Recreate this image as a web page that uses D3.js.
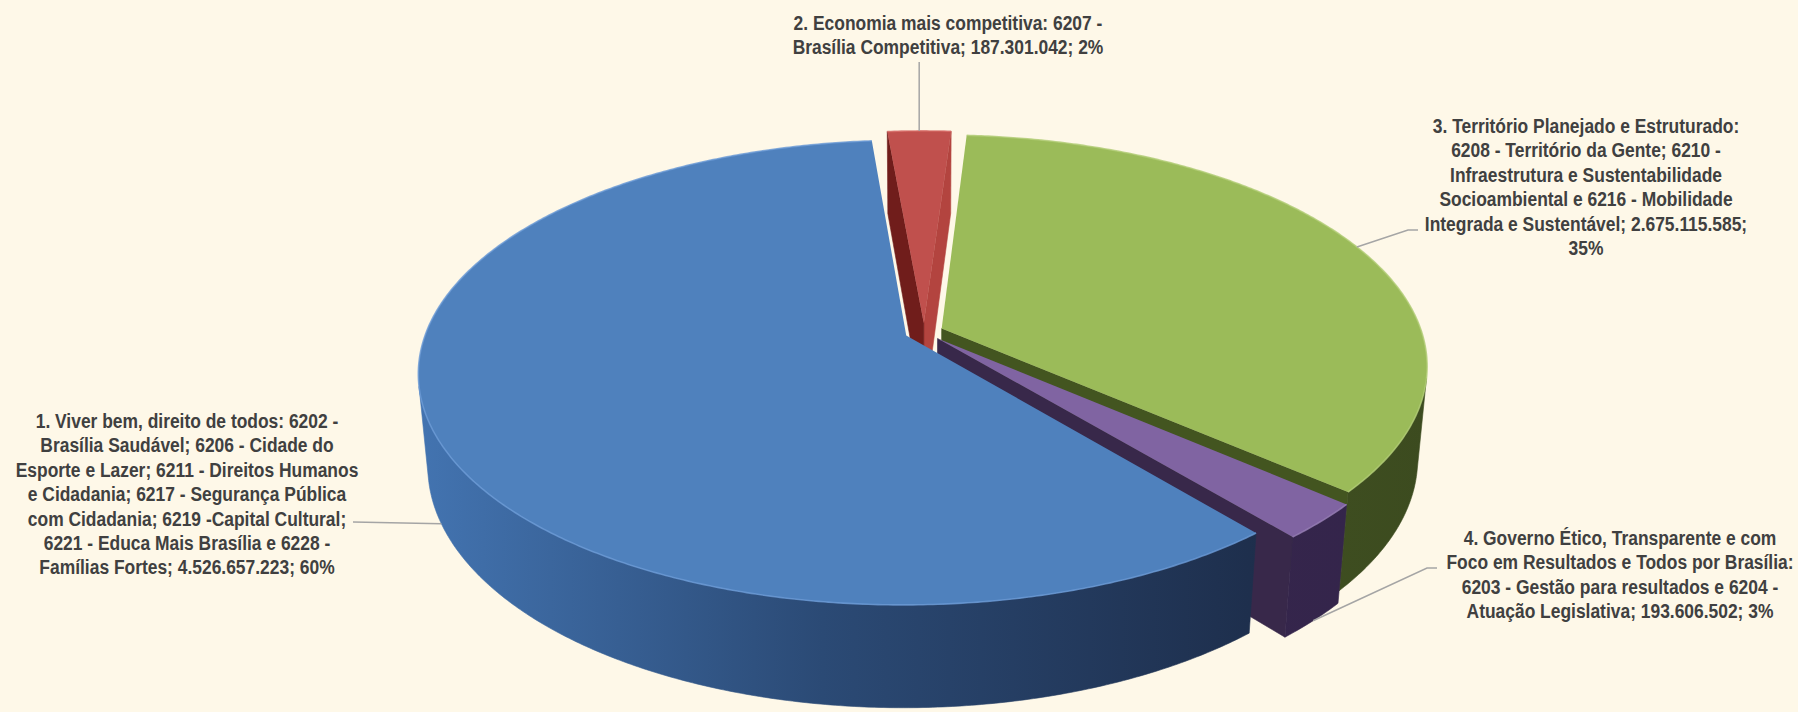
<!DOCTYPE html>
<html>
<head>
<meta charset="utf-8">
<script src="https://cdn.jsdelivr.net/npm/d3@7"></script>
<style>
  html, body { margin: 0; padding: 0; background: #fef8e8; }
  svg { display: block; }
  .lbl { font-family: "Liberation Sans", Arial, sans-serif; font-weight: bold; font-size: 21px; fill: #404040; }
</style>
</head>
<body>
<svg id="chart" width="1798" height="712"></svg>
<script>
// ---- data ----
const categoryLines = [
  ["1. Viver bem, direito de todos: 6202 -", "Brasília Saudável; 6206 - Cidade do", "Esporte e Lazer; 6211 - Direitos Humanos", "e Cidadania; 6217 - Segurança Pública", "com Cidadania; 6219 -Capital Cultural;", "6221 - Educa Mais Brasília e 6228 -", "Famílias Fortes"],
  ["2. Economia mais competitiva: 6207 -", "Brasília Competitiva"],
  ["3. Território Planejado e Estruturado:", "6208 - Território da Gente; 6210 -", "Infraestrutura e Sustentabilidade", "Socioambiental e 6216 - Mobilidade", "Integrada e Sustentável"],
  ["4. Governo Ético, Transparente e com", "Foco em Resultados e Todos por Brasília:", "6203 - Gestão para resultados e 6204 -", "Atuação Legislativa"]
];
const values = [4526657223, 187301042, 2675115585, 193606502];
const percentOnOwnLine = [false, false, true, false];

// ---- styles ----
const topColors = ["#4f81bd", "#c0504d", "#9bbb59", "#8064a2"];
const rimColors = ["#6a9ad6", "#d66a66", "#b0cc74", "#9880b8"];
const startFaceColors = ["#2a4570", "#701d1b", "#435520", "#38294b"];
const endFaceColors = ["#2a4570", "#b3443f", "#435520", "#38284a"];
const sideStops = [
  [[0, "#4374b1"], [0.4, "#2b4a75"], [0.85, "#1d2d4a"], [1, "#1b2a45"]],
  [[0, "#6e1a19"], [1, "#8a2826"]],
  [[0, "#4f6329"], [1, "#3c4b1f"]],
  [[0, "#3f2d55"], [1, "#33244a"]]
];
const narrow = 0.83; // horizontal squeeze for a narrow bold face

// label layout: block centre x, first baseline, leader attach point, elbow length
const labelLayout = [
  { x: 187, y: 428, attach: [353, 522], elbow: 0 },
  { x: 948, y: 30, attach: [null, 62], elbow: 0 },
  { x: 1586, y: 133, attach: [1418, 230], elbow: 10 },
  { x: 1620, y: 545, attach: [1437, 568], elbow: 10 }
];
const lineHeight = 24.4;

// ---- 3D pie geometry ----
const geo = { cx: 924, cy: 332, rs: 480, tilt: 28 * Math.PI / 180, dist: 5.55, thick: 0.22, explode: 0.04 };
const firstSliceAngle = 140 * Math.PI / 180;
const sinA = Math.sin(geo.tilt), cosA = Math.cos(geo.tilt);
const F = geo.rs * geo.dist;

function project(X, Y, Z) {
  const depth = geo.dist - Y * sinA + Z * cosA;
  return [geo.cx + F * X / depth, geo.cy - F * (Y * cosA + Z * sinA) / depth, depth];
}

const svg = d3.select("#chart");
const defs = svg.append("defs");

const xGrad = d3.scaleLinear().domain([0, 1]).range([geo.cx - geo.rs * 1.06, geo.cx + geo.rs * 1.06]);
sideStops.forEach((stops, i) => {
  const g = defs.append("linearGradient").attr("id", "side" + i)
    .attr("gradientUnits", "userSpaceOnUse")
    .attr("x1", xGrad(0)).attr("x2", xGrad(1)).attr("y1", 0).attr("y2", 0);
  stops.forEach(s => g.append("stop").attr("offset", s[0]).attr("stop-color", s[1]));
});

const pie = d3.pie().sort(null).value(d => d)
  .startAngle(firstSliceAngle).endAngle(firstSliceAngle + 2 * Math.PI);
const arcs = pie(values);
const total = d3.sum(values);

const sideFaces = [], topFaces = [], anchors = [];
const T = geo.thick;

arcs.forEach((a, i) => {
  const mid = (a.startAngle + a.endAngle) / 2;
  const ox = geo.explode * Math.sin(mid), oz = geo.explode * Math.cos(mid);
  const rim = (p, Y) => project(ox + Math.sin(p), Y, oz + Math.cos(p));
  const ctr = Y => project(ox, Y, oz);
  const steps = Math.max(4, Math.ceil((a.endAngle - a.startAngle) / (Math.PI / 360)));
  const angles = d3.range(steps + 1).map(k => a.startAngle + (a.endAngle - a.startAngle) * k / steps);

  // top face
  const arcPts = angles.map(p => rim(p, 0));
  topFaces.push({ i, pts: [ctr(0), ...arcPts], arc: arcPts });

  // outer curved side: keep the parts turned toward the camera
  const visible = p => -ox * Math.sin(p) - oz * Math.cos(p) - 1 - geo.dist * cosA * Math.cos(p) > 0;
  let run = [];
  const flush = () => {
    if (run.length > 1) {
      const topPts = run.map(p => rim(p, 0));
      const botPts = run.map(p => rim(p, -T)).reverse();
      const depth = d3.mean(run, p => rim(p, -T / 2)[2]);
      sideFaces.push({ i, pts: [...topPts, ...botPts], depth, fill: "url(#side" + i + ")" });
    }
    run = [];
  };
  angles.forEach(p => { if (visible(p)) run.push(p); else flush(); });
  flush();

  // radial faces (cut planes)
  [[a.startAngle, [-Math.cos(a.startAngle), Math.sin(a.startAngle)], startFaceColors[i]],
   [a.endAngle, [Math.cos(a.endAngle), -Math.sin(a.endAngle)], endFaceColors[i]]].forEach(([ang, n, col]) => {
    const dot = n[0] * (-ox) + n[1] * (-geo.dist * cosA - oz);
    if (dot <= 0) return;
    const pts = [ctr(0), rim(ang, 0), rim(ang, -T), ctr(-T)];
    const c = project(ox + 0.5 * Math.sin(ang), -T / 2, oz + 0.5 * Math.cos(ang));
    sideFaces.push({ i, pts, depth: c[2], fill: col });
  });

  // leader anchor: top rim for back slices, lower rim for front slices
  anchors.push(Math.cos(mid) < 0 ? rim(mid, -T) : rim(mid, 0));
});

const line = d3.line().x(d => d[0]).y(d => d[1]);
const gPie = svg.append("g");

sideFaces.sort((a, b) => b.depth - a.depth);
gPie.selectAll("path.side").data(sideFaces).join("path")
  .attr("class", "side")
  .attr("d", d => line(d.pts) + "Z")
  .attr("fill", d => d.fill)
  .attr("stroke", d => d.fill)
  .attr("stroke-width", 0.6)
  .attr("stroke-linejoin", "round");

gPie.selectAll("path.top").data(topFaces).join("path")
  .attr("class", "top")
  .attr("d", d => line(d.pts) + "Z")
  .attr("fill", d => topColors[d.i]);

gPie.selectAll("path.rim").data(topFaces).join("path")
  .attr("class", "rim")
  .attr("d", d => line(d.arc))
  .attr("fill", "none")
  .attr("stroke", d => rimColors[d.i])
  .attr("stroke-width", 1.6)
  .attr("stroke-opacity", 0.8);

// ---- labels ----
const fmt = d3.formatLocale({ decimal: ",", thousands: ".", grouping: [3], currency: ["R$", ""] }).format(",d");

const labelData = arcs.map((a, i) => {
  const lines = categoryLines[i].slice();
  const pct = Math.round(values[i] / total * 100) + "%";
  const last = lines.length - 1;
  if (percentOnOwnLine[i]) {
    lines[last] += "; " + fmt(values[i]) + ";";
    lines.push(pct);
  } else {
    lines[last] += "; " + fmt(values[i]) + "; " + pct;
  }
  return { i, lines, layout: labelLayout[i], anchor: anchors[i] };
});

const gLead = svg.append("g");
gLead.selectAll("path").data(labelData).join("path")
  .attr("d", d => {
    const L = d.layout;
    const start = [L.attach[0] == null ? d.anchor[0] : L.attach[0], L.attach[1]];
    const dir = Math.sign(d.anchor[0] - start[0]);
    const pts = [start];
    if (L.elbow) pts.push([start[0] + dir * L.elbow, start[1]]);
    pts.push([d.anchor[0], d.anchor[1]]);
    return line(pts);
  })
  .attr("fill", "none")
  .attr("stroke", "#a5a5a5")
  .attr("stroke-width", 1.5);

const gText = svg.append("g");
const blocks = gText.selectAll("g").data(labelData).join("g")
  .attr("transform", d => `translate(${d.layout.x},${d.layout.y}) scale(${narrow},1)`);
const texts = blocks.append("text")
  .attr("class", "lbl")
  .attr("text-anchor", "middle");
texts.selectAll("tspan").data(d => d.lines.map((t, k) => ({ t, k }))).join("tspan")
  .attr("x", 0)
  .attr("y", d => d.k * lineHeight)
  .text(d => d.t);
</script>
</body>
</html>
